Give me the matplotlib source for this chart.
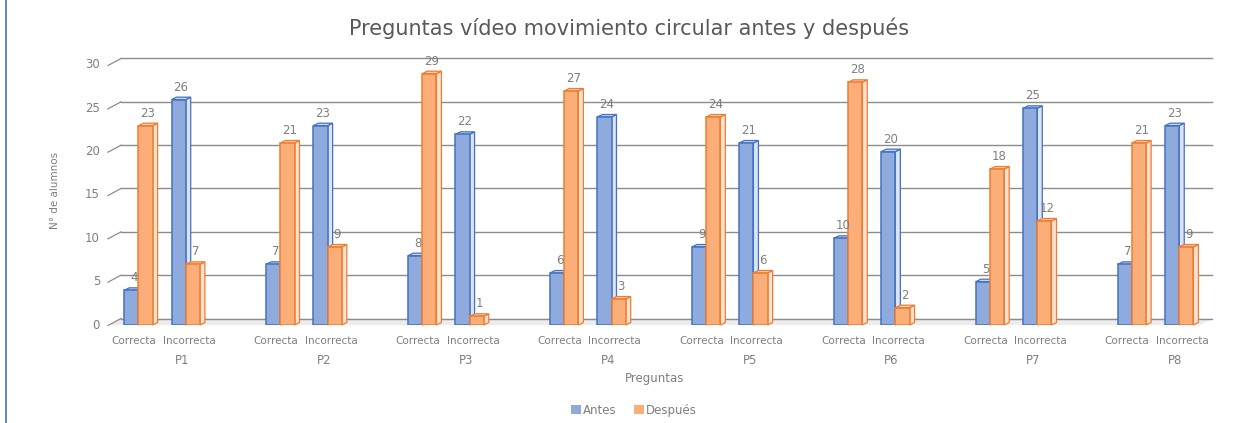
import numpy as np
import matplotlib.pyplot as plt
from matplotlib.patches import Polygon, Patch
from matplotlib.lines import Line2D

# Datos del gráfico
preguntas = ["P1", "P2", "P3", "P4", "P5", "P6", "P7", "P8"]
respuestas = ["Correcta", "Incorrecta"]
antes_correcta = [4, 7, 8, 6, 9, 10, 5, 7]
antes_incorrecta = [26, 23, 22, 24, 21, 20, 25, 23]
despues_correcta = [23, 21, 29, 27, 24, 28, 18, 21]
despues_incorrecta = [7, 9, 1, 3, 6, 2, 12, 9]

antes = [v for par in zip(antes_correcta, antes_incorrecta) for v in par]
despues = [v for par in zip(despues_correcta, despues_incorrecta) for v in par]

W, H, DPI = 1247, 423, 100
fig = plt.figure(figsize=(W / DPI, H / DPI), dpi=DPI)
fig.patch.set_facecolor("white")

# ejes en píxeles (frente del gráfico 3D)
left_px, right_px, bottom_px, top_px = 110, 1201, 325, 65
ax = fig.add_axes([left_px / W, 1 - bottom_px / H,
                   (right_px - left_px) / W, (bottom_px - top_px) / H])
xmin, xmax = -0.6, 22.46
ymin, ymax = 0, 30
ax.set_xlim(xmin, xmax)
ax.set_ylim(ymin, ymax)
ax.axis("off")

pxx = (right_px - left_px) / (xmax - xmin)
pxy = (bottom_px - top_px) / (ymax - ymin)

# posiciones de las categorías
pos = []
for i in range(len(preguntas)):
    pos += [3 * i, 3 * i + 1]
pos = np.array(pos, dtype=float)

grid_col = "#8C8C8C"
txt_col = "#595959"
lab_col = "#7F7F7F"

# suelo y rejilla (al fondo)
gdx, gdy = 11 / pxx, 6.5 / pxy
floor = Polygon([(xmin, 0), (xmax, 0), (xmax + gdx, gdy), (xmin + gdx, gdy)],
                closed=True, facecolor="#EDEDED", edgecolor="none", zorder=0,
                clip_on=False)
ax.add_patch(floor)
for yv in range(0, 31, 5):
    ax.plot([xmin + gdx, xmax + gdx], [yv + gdy, yv + gdy], color=grid_col,
            lw=1.0, zorder=0.5, clip_on=False)
    ax.plot([xmin - 2 / pxx, xmin + gdx], [yv - 0.5 / pxy, yv + gdy],
            color=grid_col, lw=0.9, clip_on=False)
    ax.text(xmin - 10 / pxx, yv, str(yv), ha="right", va="center",
            fontsize=8.5, color=lab_col)

# barras con efecto 3D
width = 0.3
bdx, bdy = 5 / pxx, 2.5 / pxy


def barras_3d(xs, vals, front, side, top, edge, z):
    ax.bar(xs, vals, width=width, color=front, edgecolor=edge, lw=1.1,
           zorder=z + 0.2)
    for x, v in zip(xs, vals):
        x0, x1 = x - width / 2, x + width / 2
        ax.add_patch(Polygon([(x1, 0), (x1 + bdx, bdy), (x1 + bdx, v + bdy), (x1, v)],
                             closed=True, facecolor=side, edgecolor=edge, lw=0.9,
                             zorder=z, clip_on=False))
        ax.add_patch(Polygon([(x0, v), (x1, v), (x1 + bdx, v + bdy), (x0 + bdx, v + bdy)],
                             closed=True, facecolor=top, edgecolor=edge, lw=0.9,
                             zorder=z + 0.1, clip_on=False))
        ax.text(x + bdx / 2, v + bdy + 0.4, str(v), ha="center", va="bottom",
                fontsize=8.5, color=lab_col, zorder=10)


barras_3d(pos - width / 2, antes, "#8FAADC", "#DCE4F3", "#C9D6EF", "#4472C4", 2)
barras_3d(pos + width / 2, despues, "#FBAE77", "#FCE3D1", "#FAD0B2", "#ED7D31", 3)

# etiquetas del eje x
desplaz = [-0.1, 0.07]
for i, p in enumerate(preguntas):
    for j, r in enumerate(respuestas):
        ax.text(3 * i + j + desplaz[j], -1.9, r, ha="center", va="center",
                fontsize=7.5, color=lab_col)
    ax.text(3 * i + 0.92, -4.1, p, ha="center", va="center", fontsize=8.5,
            color=lab_col)

fig.text(655 / W, 1 - 378 / H, "Preguntas", ha="center", va="center",
         fontsize=8.5, color=lab_col)
fig.text(55 / W, 1 - 190 / H, "N° de alumnos", ha="center", va="center",
         rotation=90, fontsize=7.5, color=lab_col)
fig.text(629 / W, 1 - 28 / H, "Preguntas vídeo movimiento circular antes y después",
         ha="center", va="center", fontsize=15, color=txt_col)

handles = [Patch(facecolor="#8FAADC", label="Antes"),
           Patch(facecolor="#FBAE77", label="Después")]
fig.legend(handles=handles, loc="center", bbox_to_anchor=(634 / W, 1 - 410 / H),
           ncol=2, frameon=False, fontsize=8.5, handlelength=0.8, handleheight=0.8,
           handletextpad=0.2, columnspacing=1.5, labelcolor=lab_col)

# borde izquierdo azul
fig.add_artist(Line2D([6 / W, 6 / W], [0, 1], color="#4472C4", lw=1.2,
                      transform=fig.transFigure))

fig.savefig("out.png", dpi=DPI)
